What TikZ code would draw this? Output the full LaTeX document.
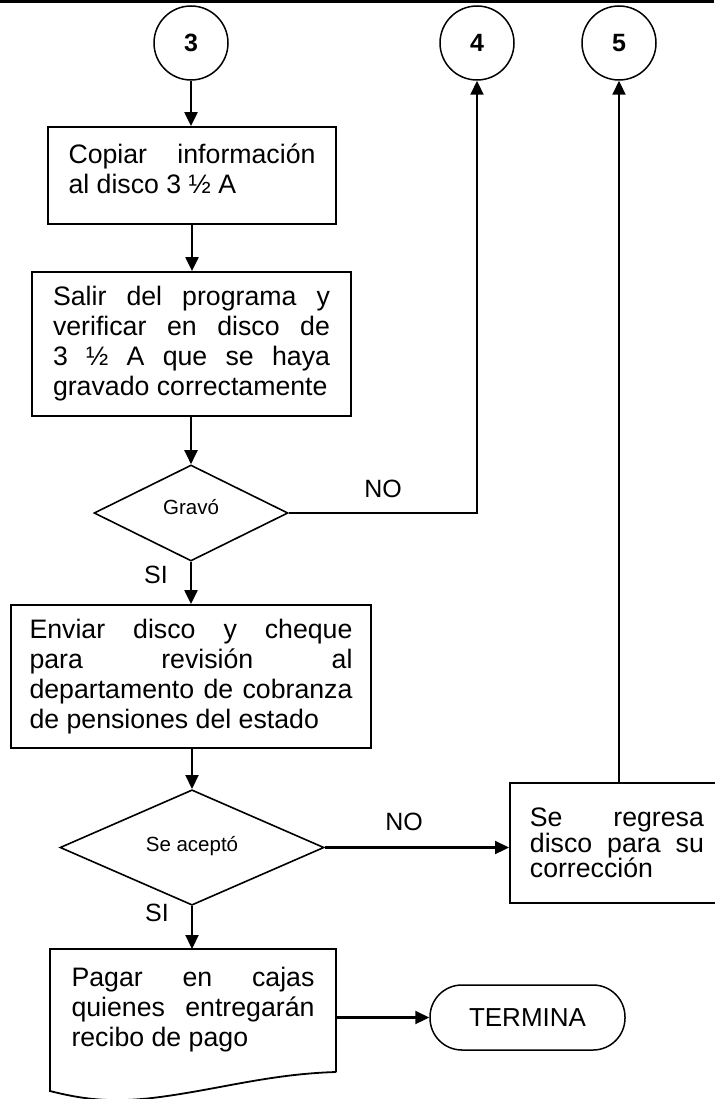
\documentclass[tikz,border=0pt]{standalone}
\usepackage{fontspec}
\setmainfont{Liberation Sans}
\usetikzlibrary{shapes.geometric,arrows.meta}
\begin{document}
\begin{tikzpicture}[x=1pt,y=-1pt,
  arr/.style={line width=2.2pt,-{Triangle[length=14pt,width=13pt]}},
  conn/.style={draw, circle, minimum size=74pt, inner sep=0pt, line width=1.5pt, font=\fontsize{25}{28}\selectfont\bfseries},
  proc/.style={draw, rectangle, line width=1.8pt, inner sep=0pt, align=justify, font=\fontsize{26.7}{30}\selectfont},
  dec/.style={draw, diamond, inner sep=0pt, line width=1.6pt, font=\fontsize{20.5}{24}\selectfont},
  lbl/.style={font=\fontsize{25}{28}\selectfont, inner sep=0pt},
  term/.style={draw, rectangle, rounded corners=32pt, line width=1.5pt, inner sep=0pt, font=\fontsize{26}{30}\selectfont},
]
\useasboundingbox (0,0) rectangle (714,1099);
\fill[white] (0,0) rectangle (714,1099);
% top rule
\draw[line width=2.5pt] (0,1.5) -- (714,1.5);

% connectors (off-page)
\node[conn] (c3) at (191,43) {3};
\node[conn] (c4) at (477,43) {4};
\node[conn] (c5) at (619,43) {5};

% process boxes
\node[proc, minimum width=288pt, minimum height=97pt, text width=247pt, text depth=44pt] (b1) at (192,175.5)
  {Copiar información\linebreak al disco 3 ½ A};
\node[proc, minimum width=319pt, minimum height=144pt, text width=277pt] (b2) at (191.5,344)
  {Salir del programa y\linebreak verificar en disco de\linebreak 3 ½ A que se haya\linebreak gravado correctamente};
\node[dec, minimum width=194pt, minimum height=96pt, text depth=12pt] (d1) at (191,513) {Gravó};
\node[proc, minimum width=360pt, minimum height=143pt, text width=323pt] (b3) at (191,676.5)
  {Enviar disco y cheque\linebreak para revisión al\linebreak departamento de cobranza\linebreak de pensiones del estado};
\node[dec, minimum width=264pt, minimum height=97pt, text depth=8pt] (d2) at (192,847.5) {Se aceptó};
\node[proc, anchor=west, minimum height=120pt, text width=174pt, inner xsep=20pt,
  font=\fontsize{26.7}{25.5}\selectfont] (b4) at (509,843)
  {Se regresa\linebreak disco para su\linebreak corrección};

% document shape
\node[align=justify, inner sep=0pt, minimum width=286pt, minimum height=123pt, text width=243pt,
  font=\fontsize{26.7}{30}\selectfont] (b5) at (193,1010)
  {Pagar en cajas\linebreak quienes entregarán\linebreak recibo de pago};
\draw[line width=1.8pt] (336,1072) -- (336,949) -- (50,949) -- (50,1091)
  .. controls (85,1100) and (115,1103) .. (160,1097)
  .. controls (220,1089) and (270,1074) .. (336,1072);

\node[term, minimum width=195pt, minimum height=65pt] (t) at (527.5,1017.5) {TERMINA};

% labels
\node[lbl] (si1) at (156,575) {SI};
\node[lbl] (no1) at (383,489) {NO};
\node[lbl] (no2) at (404,822) {NO};
\node[lbl] (si2) at (157,913) {SI};

% arrows
\draw[arr] (c3.south) -- (c3.south |- b1.north);
\draw[arr] (b1.south) -- (b1.south |- b2.north);
\draw[arr] (d1.north |- b2.south) -- (d1.north);
\draw[arr] (d1.east) -| (c4.south);
\draw[arr] (d1.south) -- (d1.south |- b3.north);
\draw[arr] (d2.north |- b3.south) -- (d2.north);
\draw[arr] (d2.east) -- (d2.east -| b4.west);
\draw[arr] (c5.south |- b4.north) -- (c5.south);
\draw[arr] (d2.south) -- (d2.south |- 0,949);
\draw[arr] (t.west -| b5.east) -- (t.west);
\end{tikzpicture}
\end{document}
